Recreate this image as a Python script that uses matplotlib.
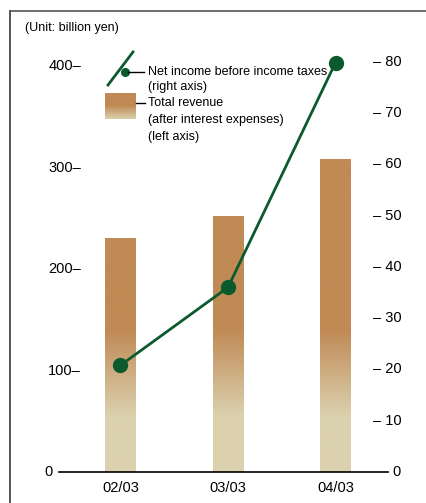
import matplotlib.pyplot as plt
import numpy as np
from matplotlib.colors import LinearSegmentedColormap

plt.rcParams['font.family'] = ['Liberation Sans Narrow', 'Liberation Sans', 'DejaVu Sans']

years = ["02/03", "03/03", "04/03"]
revenue = [230.5, 251.5, 308.5]        # left axis, billion yen
net_income = [20.8, 36.0, 79.8]        # right axis, billion yen
left_ticks = [0, 100, 200, 300, 400]
right_ticks = [0, 10, 20, 30, 40, 50, 60, 70, 80]

brown = "#C08A55"
beige = "#DBD1AF"
green = "#0B5A2E"

W, H = 426, 503
fig = plt.figure(figsize=(W / 100, H / 100), dpi=100)

# frame lines of the original page
fig.add_artist(plt.Line2D([10 / W, 10 / W], [0, 1 - 10.5 / H], color="#555555", lw=1.4))
fig.add_artist(plt.Line2D([10 / W, 1], [1 - 10.5 / H, 1 - 10.5 / H], color="#555555", lw=1.2))
fig.text(25 / W, 1 - 28 / H, "(Unit: billion yen)", fontsize=9, va="center")

ax_left, ax_right = 59, 388
ax_bot, ax_top = 472, 30
ax = fig.add_axes([ax_left / W, 1 - ax_bot / H, (ax_right - ax_left) / W, (ax_bot - ax_top) / H])
ax.set_xlim(-0.572, 2.488)
ax.set_ylim(0, (ax_bot - ax_top) / 1.0145)
ax.axis("off")
ax.axhline(0, color="black", lw=1.2, clip_on=False)

bar_cmap = LinearSegmentedColormap.from_list("g", [beige, brown])
x = np.arange(len(years))
width = 0.288
for xi, v in zip(x, revenue):
    # colour by value: beige below ~55, brown above ~140
    vals = np.linspace(0, v, 256).reshape(-1, 1)
    t = np.clip((vals - 55) / 85, 0, 1)
    ax.imshow(t, cmap=bar_cmap,
              extent=[xi - width / 2, xi + width / 2, 0, v], origin="lower",
              aspect="auto", vmin=0, vmax=1, zorder=1)

for t in left_ticks:
    ax.text(-0.572 + (81 - ax_left) / 107.5 if t else -0.572 - 6 / 107.5, t,
            f"{t}\u2013" if t else "0", ha="right", va="center", fontsize=10.5)
for xi, lab in zip(x, years):
    ax.text(xi, -16, lab, ha="center", va="center", fontsize=10.5)

ax2 = ax.twinx()
ax2.set_xlim(-0.572, 2.488)
ax2.set_ylim(0, (ax_bot - ax_top) / 5.13)
ax2.axis("off")
ax2.plot(x, net_income, color=green, lw=2, marker="o", ms=10, zorder=3)
for t in right_ticks:
    ax2.text(2.488 + (373 - ax_right) / 107.5 if t else 2.488 + 4 / 107.5, t,
             f"\u2013 {t}" if t else "0", ha="left", va="center", fontsize=10.5)

# legend drawn by hand in figure pixels
def fx(px):
    return px / W

def fy(py):
    return 1 - py / H

fig.add_artist(plt.Line2D([fx(108), fx(133)], [fy(85), fy(52)], color=green, lw=2))
fig.add_artist(plt.Line2D([fx(125)], [fy(72)], color=green, marker="o", ms=5.5, lw=0))
fig.add_artist(plt.Line2D([fx(128), fx(144)], [fy(72), fy(72)], color="black", lw=1))
fig.text(fx(148), fy(72), "Net income before income taxes", fontsize=9, va="center")
fig.text(fx(148), fy(87), "(right axis)", fontsize=9, va="center")
lax = fig.add_axes([fx(105), fy(119), fx(31), (119 - 92.5) / H])
lax.imshow(np.linspace(0, 1, 256).reshape(-1, 1),
           cmap=LinearSegmentedColormap.from_list("l", [beige, brown, brown]),
           aspect="auto", origin="lower", extent=[0, 1, 0, 1])
lax.axis("off")
fig.add_artist(plt.Line2D([fx(136), fx(145)], [fy(103), fy(103)], color="black", lw=1))
fig.text(fx(148), fy(103), "Total revenue", fontsize=9, va="center")
fig.text(fx(148), fy(120), "(after interest expenses)", fontsize=9, va="center")
fig.text(fx(148), fy(137), "(left axis)", fontsize=9, va="center")

fig.savefig("out.png", dpi=100)
